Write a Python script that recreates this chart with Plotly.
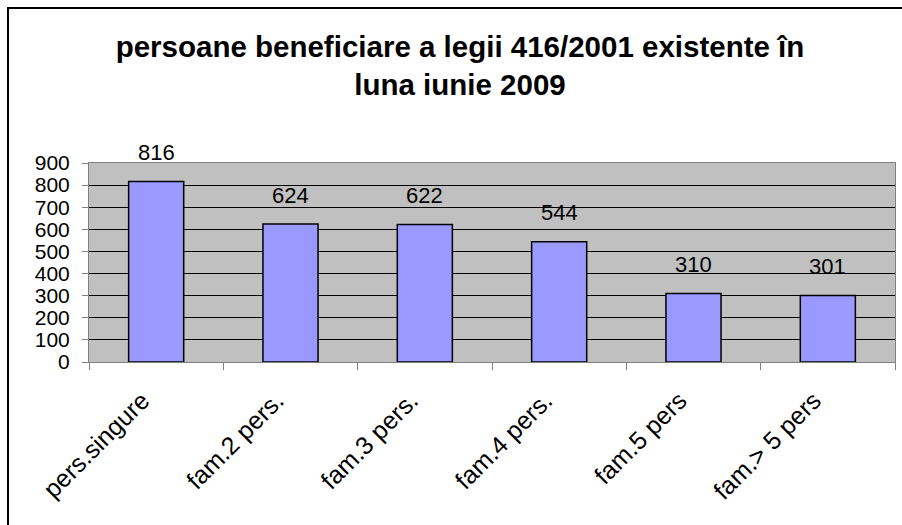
import plotly.graph_objects as go

categories = ["pers.singure", "fam.2 pers.", "fam.3 pers.", "fam.4 pers.", "fam.5 pers", "fam.> 5 pers"]
values = [816, 624, 622, 544, 310, 301]
y_ticks = [0, 100, 200, 300, 400, 500, 600, 700, 800, 900]
title_text = "persoane beneficiare a legii 416/2001 existente în<br>luna iunie 2009"

FONT = "Liberation Sans, Arial, sans-serif"

fig = go.Figure()
fig.add_trace(go.Bar(
    x=categories, y=values,
    marker=dict(color="#9999FF", line=dict(color="black", width=1.5)),
    width=0.41,
    hoverinfo="x+y",
))

for c, v in zip(categories, values):
    fig.add_annotation(x=c, y=v, text=str(v), showarrow=False, yanchor="middle",
                       yshift=29, font=dict(family=FONT, size=22, color="black"))

fig.add_shape(type="rect", xref="paper", yref="paper",
              x0=-0.1005, x1=1.2, y0=-1.2, y1=1.779,
              line=dict(color="black", width=2), fillcolor="rgba(0,0,0,0)", layer="below")

fig.update_layout(
    width=902, height=525,
    margin=dict(l=89, r=7, t=163, b=163, autoexpand=False),
    paper_bgcolor="white",
    plot_bgcolor="#C0C0C0",
    showlegend=False,
    bargap=0.59,
    title=dict(text=title_text, x=460/902, xanchor="center", y=1-57/525, yanchor="top",
               font=dict(family=FONT, size=29.5, color="black", weight="bold")),
    xaxis=dict(
        tickangle=-45, tickfont=dict(family=FONT, size=25, color="black"),
        showline=True, linecolor="#808080", linewidth=1, mirror=True,
        ticks="outside", ticklen=7, tickcolor="#808080", tickson="boundaries",
        ticklabelshift=-14, ticklabelstandoff=13,
        showgrid=False, automargin=False,
    ),
    yaxis=dict(
        range=[0, 900], tickvals=y_ticks, tickfont=dict(family=FONT, size=21, color="black"),
        showline=True, linecolor="#808080", linewidth=1, mirror=True,
        ticks="outside", ticklen=6, tickcolor="#808080", ticklabelstandoff=8,
        showgrid=True, gridcolor="black", gridwidth=1, zeroline=False, automargin=False,
    ),
)

fig.write_html("out.html", config={"displayModeBar": False},
               post_script="document.body.style.margin='0';")
